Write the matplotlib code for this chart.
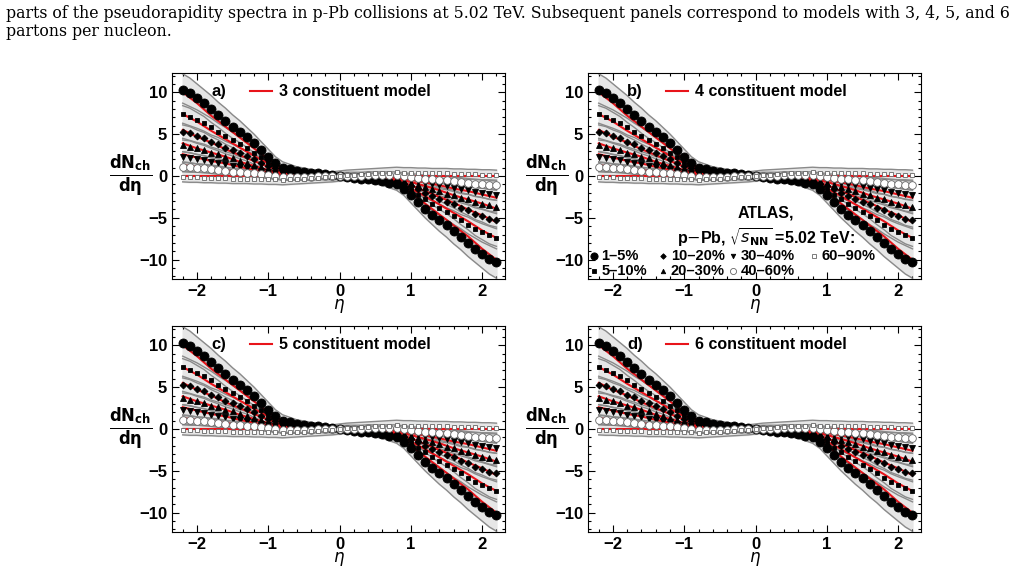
import numpy as np
import matplotlib.pyplot as plt

plt.rcParams['font.family'] = ['Liberation Sans', 'DejaVu Sans']

# pseudorapidity grid (positive half, data are antisymmetric)
eta_pos = [0.0, 0.1, 0.2, 0.3, 0.4, 0.5, 0.6, 0.7, 0.8, 0.9, 1.0, 1.1,
           1.2, 1.3, 1.4, 1.5, 1.6, 1.7, 1.8, 1.9, 2.0, 2.1, 2.2]
classes = ['1\u20135%', '5\u201310%', '10\u201320%', '20\u201330%', '30\u201340%', '40\u201360%', '60\u201390%']
markers = ['o', 's', 'D', '^', 'v', 'o', 's']
sizes = [6.5, 3.5, 3.5, 4, 4, 5.5, 3.5]
filled = [True, True, True, True, True, False, False]

data = [
    [0, -0.1, -0.2, -0.3, -0.4, -0.5, -0.6, -0.8, -1.0, -1.5, -2.3, -3.1, -3.9, -4.6, -5.3, -5.9, -6.6, -7.3, -8.0, -8.7, -9.3, -9.9, -10.3],
    [0, -0.1, -0.15, -0.2, -0.3, -0.4, -0.5, -0.6, -0.8, -1.2, -1.7, -2.3, -2.8, -3.3, -3.8, -4.3, -4.8, -5.3, -5.8, -6.3, -6.7, -7.1, -7.4],
    [0, -0.05, -0.1, -0.15, -0.2, -0.3, -0.4, -0.5, -0.6, -0.9, -1.2, -1.6, -2.0, -2.4, -2.7, -3.1, -3.4, -3.8, -4.1, -4.5, -4.8, -5.1, -5.3],
    [0, -0.05, -0.1, -0.1, -0.15, -0.2, -0.25, -0.3, -0.4, -0.6, -0.8, -1.1, -1.3, -1.6, -1.8, -2.1, -2.3, -2.6, -2.8, -3.1, -3.3, -3.5, -3.7],
    [0, 0.0, -0.05, -0.05, -0.1, -0.1, -0.15, -0.2, -0.25, -0.35, -0.5, -0.6, -0.8, -0.9, -1.1, -1.2, -1.4, -1.6, -1.7, -1.9, -2.0, -2.2, -2.3],
    [0, 0.05, 0.05, 0.05, 0.1, 0.1, 0.1, 0.1, 0.1, 0.0, -0.1, -0.2, -0.3, -0.35, -0.45, -0.5, -0.6, -0.7, -0.8, -0.9, -0.95, -1.05, -1.1],
    [0, 0.1, 0.15, 0.2, 0.25, 0.3, 0.35, 0.4, 0.45, 0.4, 0.4, 0.35, 0.35, 0.3, 0.3, 0.3, 0.25, 0.25, 0.2, 0.2, 0.15, 0.15, 0.1],
]
errs = [
    [0.3, 0.3, 0.3, 0.35, 0.4, 0.45, 0.5, 0.6, 0.7, 0.8, 0.9, 1.0, 1.1, 1.2, 1.3, 1.4, 1.5, 1.5, 1.6, 1.6, 1.7, 1.8, 1.9],
    [0.25, 0.25, 0.25, 0.3, 0.3, 0.35, 0.4, 0.45, 0.5, 0.55, 0.6, 0.7, 0.75, 0.8, 0.85, 0.9, 1.0, 1.0, 1.1, 1.1, 1.2, 1.2, 1.3],
    [0.2, 0.2, 0.2, 0.25, 0.25, 0.3, 0.3, 0.35, 0.4, 0.45, 0.5, 0.55, 0.6, 0.6, 0.65, 0.7, 0.75, 0.8, 0.8, 0.85, 0.9, 0.9, 1.0],
    [0.2, 0.2, 0.2, 0.2, 0.2, 0.25, 0.25, 0.3, 0.3, 0.35, 0.4, 0.4, 0.45, 0.5, 0.5, 0.55, 0.6, 0.6, 0.65, 0.7, 0.7, 0.75, 0.8],
    [0.2, 0.2, 0.2, 0.2, 0.2, 0.2, 0.2, 0.25, 0.25, 0.3, 0.3, 0.35, 0.35, 0.4, 0.4, 0.45, 0.45, 0.5, 0.5, 0.55, 0.55, 0.6, 0.6],
    [0.4, 0.4, 0.4, 0.4, 0.4, 0.4, 0.4, 0.4, 0.4, 0.4, 0.4, 0.4, 0.4, 0.4, 0.45, 0.45, 0.45, 0.5, 0.5, 0.5, 0.5, 0.5, 0.5],
    [0.6, 0.6, 0.6, 0.6, 0.6, 0.6, 0.6, 0.6, 0.6, 0.6, 0.6, 0.6, 0.6, 0.6, 0.6, 0.6, 0.6, 0.6, 0.6, 0.6, 0.6, 0.6, 0.6],
]

# model curves (positive half) sampled every 0.2
eta_model = [0.0, 0.2, 0.4, 0.6, 0.8, 1.0, 1.2, 1.4, 1.6, 1.8, 2.0, 2.2]
model = [
    [0, -0.1, -0.3, -0.5, -1.0, -2.0, -3.3, -4.6, -5.9, -7.2, -8.7, -10.0],
    [0, -0.1, -0.2, -0.4, -0.8, -1.5, -2.4, -3.4, -4.4, -5.4, -6.5, -7.4],
    [0, -0.05, -0.15, -0.3, -0.6, -1.1, -1.8, -2.5, -3.2, -4.0, -4.7, -5.5],
    [0, -0.05, -0.1, -0.2, -0.4, -0.7, -1.2, -1.7, -2.3, -2.8, -3.3, -3.9],
    [0, 0.0, -0.05, -0.1, -0.25, -0.45, -0.75, -1.1, -1.5, -1.8, -2.2, -2.6],
    [0, 0.0, 0.0, -0.05, -0.1, -0.2, -0.35, -0.5, -0.7, -0.9, -1.1, -1.3],
    [0, 0.0, 0.0, 0.0, 0.0, 0.0, 0.0, 0.0, 0.0, 0.0, 0.0, 0.0],
]
panel_labels = ['a)', 'b)', 'c)', 'd)']
models = ['3 constituent model', '4 constituent model', '5 constituent model', '6 constituent model']


def full(x, y):
    x = np.array(x)
    y = np.array(y)
    return np.concatenate([-x[:0:-1], x]), np.concatenate([-y[:0:-1], y])


fig = plt.figure(figsize=(10.27, 5.77), dpi=100)
fig.text(0.006, 0.977, 'parts of the pseudorapidity spectra in p-Pb collisions at 5.02 TeV. Subsequent panels correspond to models with 3, 4, 5, and 6',
         fontsize=11.3, family='DejaVu Serif', va='center')
fig.text(0.006, 0.945, 'partons per nucleon.', fontsize=11.3, family='DejaVu Serif', va='center')

W, H = 1027, 577
boxes = [(172, 73), (588, 73), (172, 326), (588, 326)]
for k, (x0, y0) in enumerate(boxes):
    ax = fig.add_axes([x0 / W, 1 - (y0 + 206) / H, 333 / W, 206 / H])
    for i in range(len(classes)):
        ex, ey = full(eta_pos, data[i])
        _, ee = full(eta_pos, errs[i])
        ee = np.abs(ee)
        ax.fill_between(ex, ey - ee, ey + ee, color='#e6e6e6', zorder=1)
        ax.plot(ex, ey - ee, color='#8a8a8a', lw=1, zorder=2)
        ax.plot(ex, ey + ee, color='#8a8a8a', lw=1, zorder=2)
    for i in range(len(classes)):
        mx, my = full(eta_model, model[i])
        ax.plot(mx, my, color='#e8141a', lw=1.5, zorder=3)
    for i in range(len(classes)):
        ex, ey = full(eta_pos, data[i])
        ax.plot(ex, ey, ls='none', marker=markers[i], ms=sizes[i],
                mfc='black' if filled[i] else 'white', mec='black' if filled[i] else '#666666',
                mew=0.6, zorder=4)
    ax.set_xlim(-2.35, 2.32)
    ax.set_ylim(-12.3, 12.3)
    ax.set_xticks([-2, -1, 0, 1, 2])
    ax.set_yticks([-10, -5, 0, 5, 10])
    ax.set_xticks(np.arange(-2.2, 2.25, 0.2), minor=True)
    ax.set_yticks(np.arange(-12, 12.5, 1), minor=True)
    ax.tick_params(direction='in', top=True, right=True, which='both', labelsize=12, width=0.8)
    ax.tick_params(which='major', length=5)
    ax.tick_params(which='minor', length=2.5)
    for lab in ax.get_xticklabels() + ax.get_yticklabels():
        lab.set_fontweight('bold')
    ax.set_xlabel(r'$\eta$', fontsize=12, labelpad=-1)
    ax.text(-0.125, 0.5, r'$\mathbf{\frac{dN_{ch}}{d\eta}}$', transform=ax.transAxes,
            fontsize=17, ha='center', va='center')
    ax.text(-1.8, 10.1, panel_labels[k], fontsize=12, fontweight='bold', va='center')
    ax.plot([-1.26, -0.95], [10.1, 10.1], color='#e8141a', lw=1.5)
    ax.text(-0.85, 10.1, models[k], fontsize=11.5, fontweight='bold', va='center')
    if k == 1:
        ax.text(0.15, -4.4, 'ATLAS,', fontsize=11.5, fontweight='bold', ha='center', va='center')
        ax.text(0.15, -7.4, r'p$-$Pb, $\sqrt{s_{\mathbf{NN}}}$ =5.02 TeV:', fontsize=11.5,
                fontweight='bold', ha='center', va='center')
        pos = [(-2.27, -9.6), (-2.27, -11.4), (-1.3, -9.6), (-1.3, -11.4), (-0.32, -9.6), (-0.32, -11.4), (0.82, -9.6)]
        for i, (px, py) in enumerate(pos):
            ax.plot(px, py, ls='none', marker=markers[i], ms=sizes[i] * 0.8,
                    mfc='black' if filled[i] else 'white', mec='black' if filled[i] else '#666666', mew=0.6, zorder=5)
            ax.text(px + 0.11, py, classes[i], fontsize=10.5, fontweight='bold', va='center', zorder=5)

fig.savefig('out.png', dpi=100)
